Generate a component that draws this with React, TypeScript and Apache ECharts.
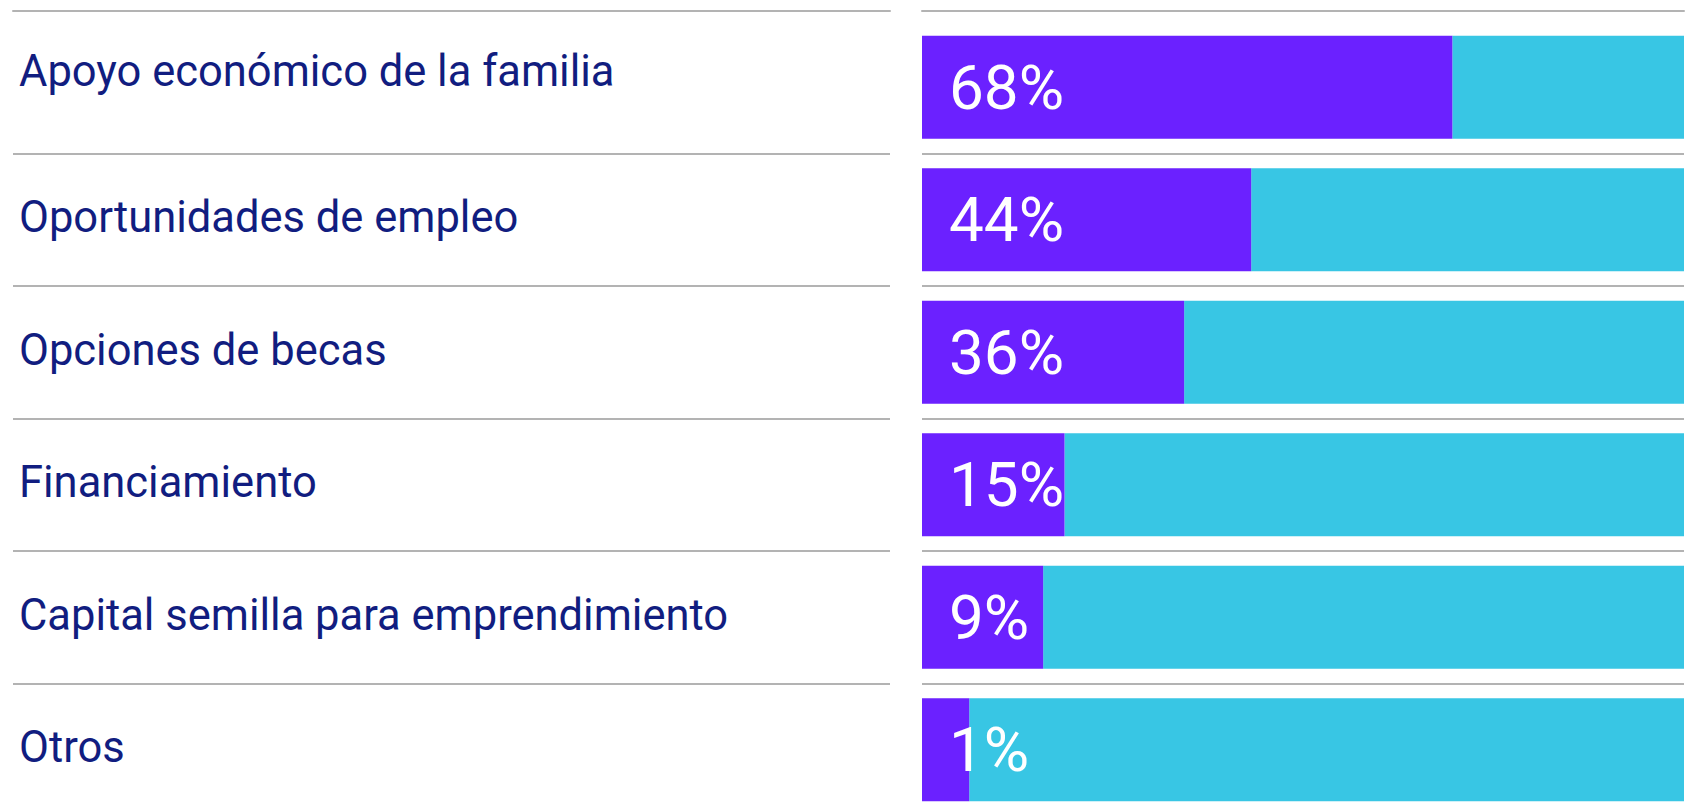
import React, { useEffect, useRef } from "react";
import * as echarts from "echarts";

const categories = [
  "Apoyo económico de la familia",
  "Oportunidades de empleo",
  "Opciones de becas",
  "Financiamiento",
  "Capital semilla para emprendimiento",
  "Otros",
];
// Percentages printed on the bars
const shareLabels = [68, 44, 36, 15, 9, 1];
// Length of the purple part of each bar (% of the track)
const barFill = [69.6, 43.2, 34.4, 18.7, 15.9, 6.2];
const barRest = barFill.map((v) => 100 - v);

const LINE = { color: "#b3b3b3", width: 2 };

export default function App() {
  const ref = useRef<HTMLDivElement>(null);
  useEffect(() => {
    if (!ref.current) return;
    const chart = echarts.init(ref.current, undefined, { renderer: "svg" });
    const splitLine = {
      show: true,
      interval: (index: number) => index !== 0,
      lineStyle: LINE,
    };
    const labelFont = {
      fontFamily: "Roboto, 'Noto Sans', sans-serif",
      fontSize: 43.5,
      fontWeight: 400,
      color: "#111d80",
    };
    chart.setOption({
      animation: false,
      backgroundColor: "#ffffff",
      grid: [
        { left: 13, width: 877, top: 21, height: 795 },
        { left: 922, width: 762, top: 21, height: 795 },
      ],
      xAxis: [
        {
          gridIndex: 0,
          type: "value",
          min: 0,
          max: 100,
          position: "top",
          offset: 10,
          axisLine: { show: true, lineStyle: LINE },
          axisTick: { show: false },
          axisLabel: { show: false },
          splitLine: { show: false },
        },
        {
          gridIndex: 1,
          type: "value",
          min: 0,
          max: 100,
          position: "top",
          offset: 10,
          axisLine: { show: true, lineStyle: LINE },
          axisTick: { show: false },
          axisLabel: { show: false },
          splitLine: { show: false },
        },
      ],
      yAxis: [
        {
          gridIndex: 0,
          type: "category",
          data: categories,
          inverse: true,
          axisLine: { show: false },
          axisTick: { show: false },
          splitLine,
          axisLabel: {
            inside: true,
            margin: 6,
            formatter: (v: string, i: number) =>
              i === 0 ? `{first|${v}}` : `{rest|${v}}`,
            rich: {
              first: { ...labelFont, padding: [0, 0, 32, 0] },
              rest: { ...labelFont, padding: [0, 0, 4, 0] },
            },
          },
        },
        {
          gridIndex: 1,
          type: "category",
          data: categories,
          inverse: true,
          axisLine: { show: false },
          axisTick: { show: false },
          axisLabel: { show: false },
          splitLine,
        },
      ],
      series: [
        {
          type: "bar",
          xAxisIndex: 1,
          yAxisIndex: 1,
          stack: "total",
          barWidth: 103,
          data: barFill,
          itemStyle: { color: "#6b21ff" },
          label: {
            show: true,
            position: "insideLeft",
            distance: 27,
            formatter: (p: any) => `${shareLabels[p.dataIndex]}%`,
            color: "#ffffff",
            fontFamily: "Roboto, 'Noto Sans', sans-serif",
            fontSize: 62,
            fontWeight: 400,
          },
        },
        {
          type: "bar",
          xAxisIndex: 1,
          yAxisIndex: 1,
          stack: "total",
          barWidth: 103,
          data: barRest,
          itemStyle: { color: "#38c6e4" },
          z: 1,
        },
      ],
    });
    return () => chart.dispose();
  }, []);
  return (
    <div
      ref={ref}
      style={{ position: "fixed", left: 0, top: 0, width: 1685, height: 830 }}
    />
  );
}
